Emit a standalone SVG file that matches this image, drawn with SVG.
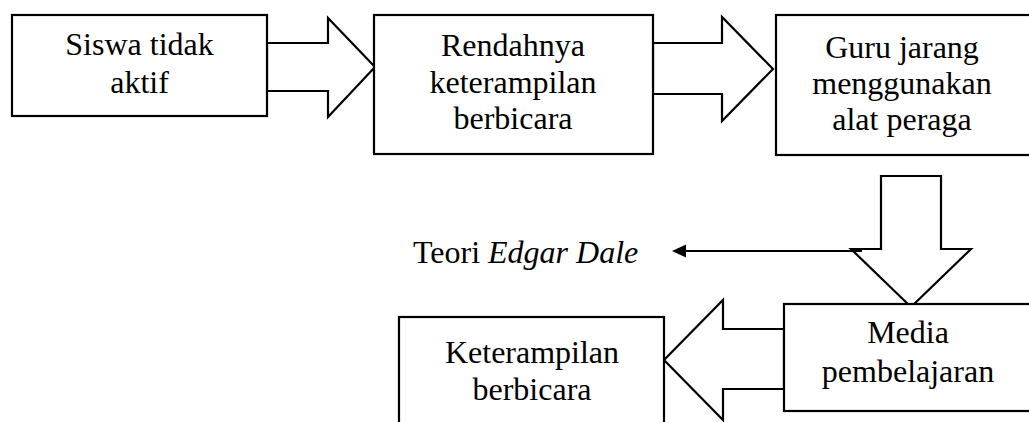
<svg xmlns="http://www.w3.org/2000/svg" width="1029" height="422" viewBox="0 0 1029 422">
<style>
.box{fill:#fff;stroke:#000;stroke-width:2.2}
.arr{fill:#fff;stroke:#000;stroke-width:2.2;stroke-linejoin:miter}
.t{font-family:"Liberation Serif","Times New Roman",serif;font-size:32px;fill:#000;text-anchor:middle}
.ln{stroke:#000;stroke-width:2.2;fill:none}
</style>
<rect width="1029" height="422" fill="#fff"/>
<g id="connectors">
<polygon class="arr" points="267,43 328,43 328,18 375,67 328,117 328,91 267,91"/>
<polygon class="arr" points="653,43 722,43 722,17 773,69 722,121 722,94 653,94"/>
<polygon class="arr" points="881,176 941,176 941,249 971,249 911,307 851,249 881,249"/>
<polygon class="arr" points="784,329 723,329 723,300 664,360 723,420 723,389 784,389"/>
<line class="ln" x1="862" y1="251" x2="684" y2="251"/>
<polygon points="672,251 686,244.5 686,257.5" fill="#000"/>
</g>
<g id="node-siswa">
<rect class="box" x="12" y="15" width="255" height="101"/>
<text class="t" x="139.5" y="55">Siswa tidak</text>
<text class="t" x="139.5" y="92.5">aktif</text>
</g>
<g id="node-rendahnya">
<rect class="box" x="374" y="15" width="279" height="139"/>
<text class="t" x="513" y="56">Rendahnya</text>
<text class="t" x="513" y="92.5">keterampilan</text>
<text class="t" x="513" y="128.5">berbicara</text>
</g>
<g id="node-guru">
<rect class="box" x="776" y="15" width="280" height="140"/>
<text class="t" x="902" y="58">Guru jarang</text>
<text class="t" x="902" y="94">menggunakan</text>
<text class="t" x="902" y="130">alat peraga</text>
</g>
<g id="node-teori">
<text class="t" x="413" y="263" style="text-anchor:start">Teori <tspan font-style="italic">Edgar Dale</tspan></text>
</g>
<g id="node-media">
<rect class="box" x="784" y="304" width="270" height="107"/>
<text class="t" x="908" y="343">Media</text>
<text class="t" x="908" y="382">pembelajaran</text>
</g>
<g id="node-keterampilan">
<rect class="box" x="399" y="317" width="265" height="200"/>
<text class="t" x="532" y="363">Keterampilan</text>
<text class="t" x="532" y="400">berbicara</text>
</g>
</svg>
